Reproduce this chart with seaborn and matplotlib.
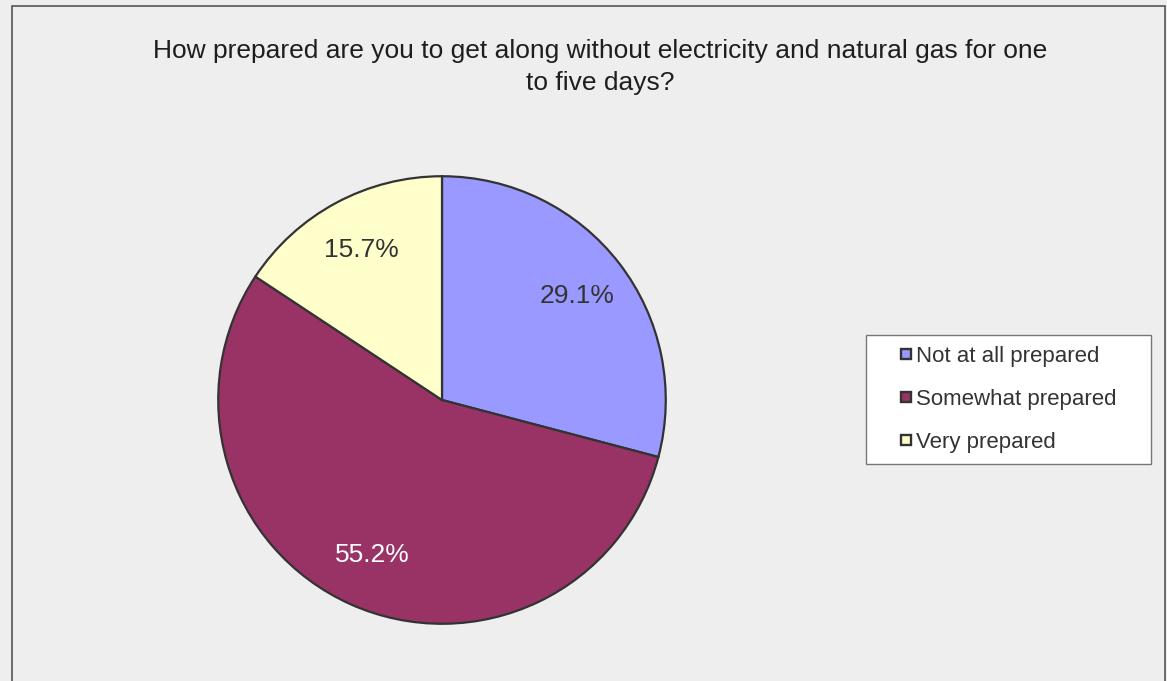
import matplotlib
matplotlib.use("Agg")
import matplotlib.pyplot as plt
import matplotlib.patches as mpatches
from matplotlib.lines import Line2D
import seaborn as sns

# data
categories = ['Not at all prepared', 'Somewhat prepared', 'Very prepared']
shares = [29.1, 55.2, 15.7]
colors = ['#9999FF', '#993366', '#FFFFCC']
pct_colors = ['#333333', '#FFFFFF', '#333333']

title = ('How prepared are you to get along without electricity and natural gas for one\n'
         'to five days?')

sns.set_theme(style='white')
plt.rcParams['font.family'] = ['Liberation Sans', 'DejaVu Sans']

W, H = 1167, 681
fig = plt.figure(figsize=(W / 100, H / 100), dpi=100, facecolor='#EEEEEE')

# outer frame of the chart area (bottom runs off the image)
fig.add_artist(mpatches.Rectangle((12 / W, -0.05), (1165 - 12) / W, 1.05 - 6 / H,
                                  transform=fig.transFigure, fill=False,
                                  edgecolor='#555555', linewidth=1.2))

fig.text(600 / W, 1 - 67 / H, title, ha='center', va='center', fontsize=19,
         color='#1e1e1e', linespacing=1.4)

cx, cy, r = 442, 400, 226
ax = fig.add_axes([(cx - r) / W, 1 - (cy + r) / H, 2 * r / W, 2 * r / H])
ax.set_facecolor('#EEEEEE')
wedges, texts, autotexts = ax.pie(shares, colors=colors, startangle=90, counterclock=False,
                                  autopct='%1.1f%%', pctdistance=0.76,
                                  wedgeprops=dict(edgecolor='#333333', linewidth=1.6),
                                  textprops=dict(fontsize=19))
for t, c in zip(autotexts, pct_colors):
    t.set_color(c)
ax.set_xlim(-1.01, 1.01)
ax.set_ylim(-1.01, 1.01)
ax.axis('off')

handles = [Line2D([], [], linestyle='none', marker='s', markersize=7.5,
                  markerfacecolor=c, markeredgecolor='#333333', markeredgewidth=1.7)
           for c in colors]
leg = fig.legend(handles, categories, loc='upper left', mode='expand',
                 bbox_to_anchor=(866 / W, 1 - 463 / H, 285 / W, 128 / H), fontsize=16,
                 frameon=True, fancybox=False, edgecolor='#777777', facecolor='white',
                 framealpha=1, handlelength=2.6, handletextpad=-0.85, numpoints=1,
                 labelspacing=0.98, borderpad=0.5, borderaxespad=0)
leg.get_frame().set_linewidth(1.0)
for t in leg.get_texts():
    t.set_color('#333333')

fig.savefig('out.png', dpi=100, facecolor=fig.get_facecolor())
